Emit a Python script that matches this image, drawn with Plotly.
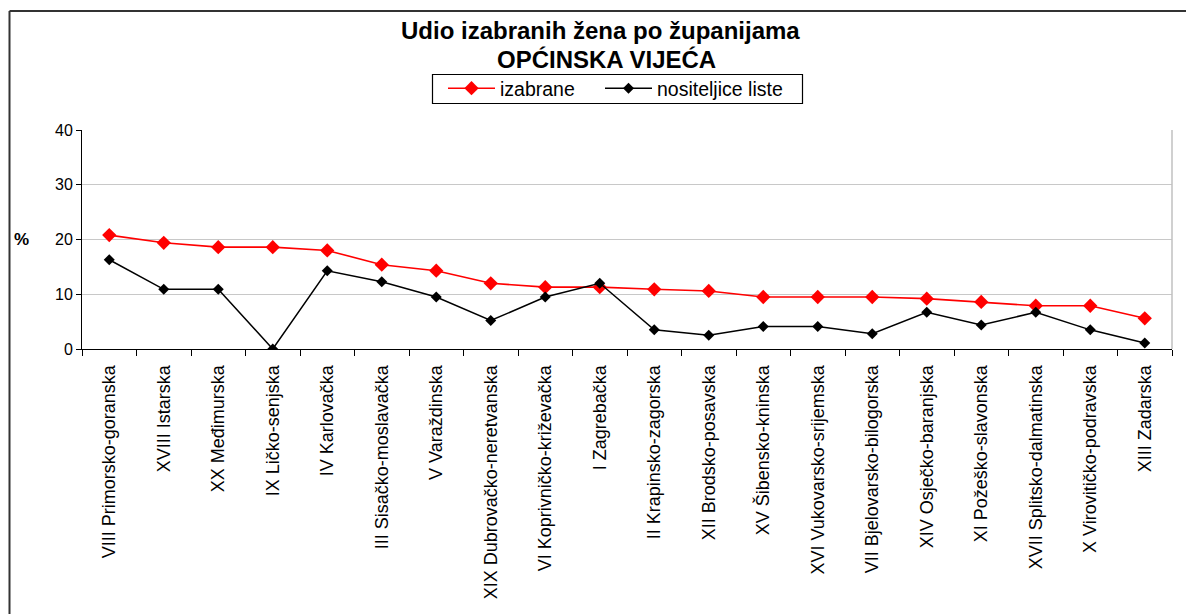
import plotly.graph_objects as go

categories = [
    "VIII Primorsko-goranska", "XVIII Istarska", "XX Međimurska", "IX Ličko-senjska",
    "IV Karlovačka", "III Sisačko-moslavačka", "V Varaždinska", "XIX Dubrovačko-neretvanska",
    "VI Koprivničko-križevačka", "I Zagrebačka", "II Krapinsko-zagorska", "XII Brodsko-posavska",
    "XV Šibensko-kninska", "XVI Vukovarsko-srijemska", "VII Bjelovarsko-bilogorska",
    "XIV Osječko-baranjska", "XI Požeško-slavonska", "XVII Splitsko-dalmatinska",
    "X Virovitičko-podravska", "XIII Zadarska",
]
izabrane = [20.8, 19.4, 18.6, 18.6, 18.0, 15.4, 14.3, 12.0, 11.3, 11.3,
            10.9, 10.6, 9.5, 9.5, 9.5, 9.2, 8.6, 7.9, 7.9, 5.6]
nositeljice = [16.3, 10.9, 10.9, 0.0, 14.3, 12.3, 9.5, 5.2, 9.5, 12.0,
               3.5, 2.5, 4.1, 4.1, 2.8, 6.7, 4.4, 6.7, 3.5, 1.1]
y_ticks = [0, 10, 20, 30, 40]

W, H = 1186, 614
L, R, T, B = 82, 1172, 130, 349


def px(x):
    return (x - L) / (R - L)


def py(y):
    return (B - y) / (B - T)


FONT = "Liberation Sans, Arial, sans-serif"

fig = go.Figure()
fig.add_trace(go.Scatter(
    x=categories, y=izabrane, name="izabrane", mode="lines+markers",
    line=dict(color="#ff0000", width=1.6),
    marker=dict(symbol="diamond", size=11, color="#ff0000"),
    legend="legend",
))
fig.add_trace(go.Scatter(
    x=categories, y=nositeljice, name="nositeljice liste", mode="lines+markers",
    line=dict(color="#000000", width=1.5),
    marker=dict(symbol="diamond", size=8.5, color="#000000"),
    legend="legend2",
))

legend_common = dict(
    orientation="h", yanchor="middle", xanchor="left",
    borderwidth=0, bgcolor="rgba(0,0,0,0)",
    font=dict(size=19.5, family=FONT), itemwidth=47,
)

fig.update_layout(
    width=W, height=H,
    margin=dict(l=L, r=W - R, t=T, b=H - B, pad=0),
    paper_bgcolor="white", plot_bgcolor="white",
    font=dict(family=FONT, color="black"),
    showlegend=True,
    legend=dict(x=px(443), y=py(88.5), **legend_common),
    legend2=dict(x=px(600), y=py(88.5), **legend_common),
    xaxis=dict(
        type="category", range=[-0.5, len(categories) - 0.5],
        tickson="boundaries", ticks="outside", ticklen=6,
        tickcolor="black", showline=True, linecolor="black", linewidth=1,
        tickangle=-90, tickfont=dict(size=18, family=FONT), showgrid=False,
        ticklabelstandoff=8,
    ),
    yaxis=dict(
        range=[0, 40], tickvals=y_ticks, ticks="outside", ticklen=5,
        tickcolor="black", showline=True, linecolor="black", linewidth=1,
        showgrid=True, gridcolor="#c8c8c8", gridwidth=1, zeroline=False,
        tickfont=dict(size=16, family=FONT),
    ),
    annotations=[
        dict(text="<b>Udio izabranih žena po županijama</b>", xref="paper", yref="paper",
             x=px(600), y=py(30), xanchor="center", yanchor="middle", showarrow=False,
             font=dict(size=24, family=FONT)),
        dict(text="<b>OPĆINSKA VIJEĆA</b>", xref="paper", yref="paper",
             x=px(606), y=py(60), xanchor="center", yanchor="middle", showarrow=False,
             font=dict(size=24, family=FONT)),
        dict(text="<b>%</b>", xref="paper", yref="y", x=px(21), y=20,
             xanchor="center", yanchor="middle", showarrow=False,
             font=dict(size=17, family=FONT)),
    ],
    shapes=[
        dict(type="line", xref="paper", yref="paper", x0=px(9.5), x1=px(9.5),
             y0=py(616), y1=py(11), line=dict(color="#333333", width=2)),
        dict(type="line", xref="paper", yref="paper", x0=px(9.5), x1=px(1190),
             y0=py(11), y1=py(11), line=dict(color="#333333", width=2)),
        dict(type="line", xref="paper", yref="paper", x0=1, x1=1, y0=0, y1=1,
             line=dict(color="#c0c0c0", width=1.5)),
        dict(type="rect", xref="paper", yref="paper", x0=px(432.5), x1=px(802.5),
             y0=py(103.5), y1=py(74.5), line=dict(color="black", width=1.2),
             fillcolor="rgba(0,0,0,0)", layer="below"),
    ],
)

fig.write_html(
    "out.html",
    config={"displayModeBar": False},
    post_script="document.body.style.margin='0';document.body.style.overflow='hidden';",
)
